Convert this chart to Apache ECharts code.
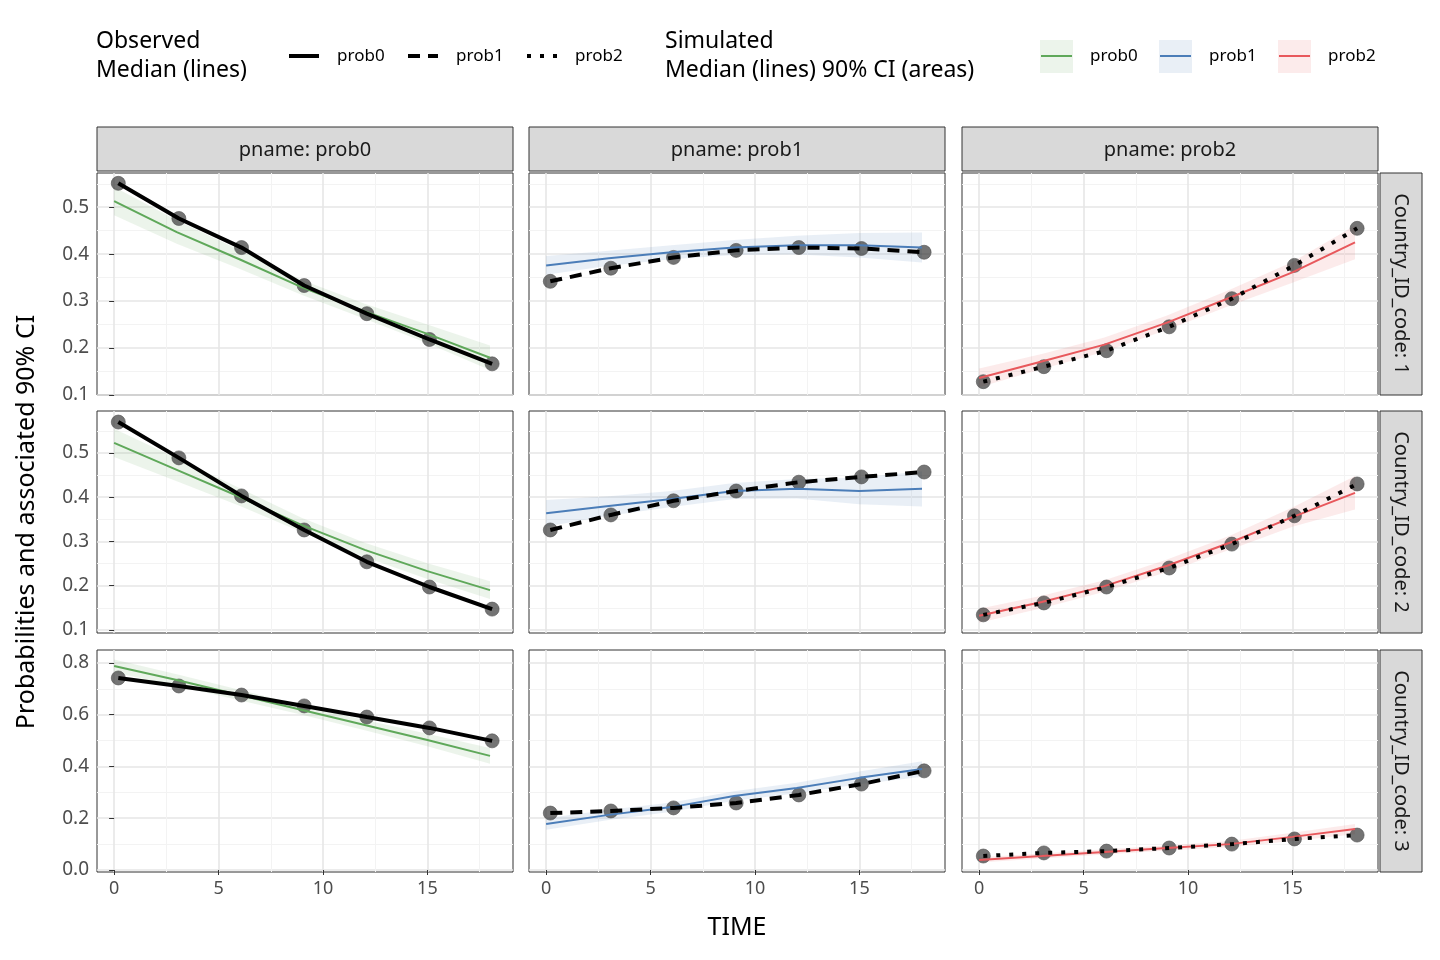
<!DOCTYPE html>
<html><head><meta charset="utf-8">
<script src="https://cdn.jsdelivr.net/npm/echarts@6/dist/echarts.min.js"></script>
<style>html,body{margin:0;background:#fff}#c{width:1440px;height:960px}</style>
</head><body><div id="c"></div>
<script>
// time points
const obsTimes = [0.2, 3.1, 6.1, 9.1, 12.1, 15.1, 18.1];
const simTimes = [0, 3, 6, 9, 12, 15, 18];
const pnames = ["prob0", "prob1", "prob2"];
const countries = ["Country_ID_code: 1", "Country_ID_code: 2", "Country_ID_code: 3"];

// observed medians [row][prob]
const obs1 = [
  [0.551, 0.476, 0.414, 0.333, 0.273, 0.218, 0.166],
  [0.342, 0.370, 0.393, 0.408, 0.414, 0.412, 0.404],
  [0.128, 0.160, 0.194, 0.245, 0.305, 0.376, 0.455]
];
const obs2 = [
  [0.570, 0.489, 0.403, 0.326, 0.254, 0.197, 0.147],
  [0.326, 0.360, 0.392, 0.414, 0.434, 0.446, 0.457],
  [0.134, 0.161, 0.197, 0.240, 0.294, 0.358, 0.430]
];
const obs3 = [
  [0.742, 0.711, 0.676, 0.634, 0.591, 0.549, 0.499],
  [0.220, 0.228, 0.240, 0.259, 0.290, 0.332, 0.383],
  [0.054, 0.066, 0.073, 0.085, 0.100, 0.120, 0.135]
];
// simulated medians
const sim1 = [
  [0.513, 0.447, 0.389, 0.329, 0.278, 0.230, 0.179],
  [0.376, 0.391, 0.404, 0.414, 0.419, 0.419, 0.414],
  [0.136, 0.171, 0.207, 0.254, 0.307, 0.361, 0.425]
];
const sim2 = [
  [0.523, 0.462, 0.401, 0.337, 0.281, 0.233, 0.190],
  [0.364, 0.380, 0.396, 0.414, 0.419, 0.414, 0.419],
  [0.132, 0.163, 0.199, 0.245, 0.297, 0.355, 0.410]
];
const sim3 = [
  [0.788, 0.734, 0.676, 0.618, 0.560, 0.502, 0.441],
  [0.178, 0.213, 0.243, 0.286, 0.317, 0.356, 0.390],
  [0.039, 0.054, 0.070, 0.085, 0.100, 0.128, 0.158]
];
// 90% CI half widths
const ci1 = [
  [0.030, 0.025, 0.020, 0.016, 0.016, 0.020, 0.026],
  [0.020, 0.016, 0.015, 0.016, 0.020, 0.026, 0.032],
  [0.020, 0.016, 0.015, 0.015, 0.017, 0.022, 0.036]
];
const ci2 = [
  [0.032, 0.026, 0.020, 0.016, 0.016, 0.018, 0.020],
  [0.030, 0.022, 0.018, 0.018, 0.022, 0.030, 0.040],
  [0.016, 0.014, 0.013, 0.014, 0.016, 0.022, 0.038]
];
const ci3 = [
  [0.025, 0.022, 0.020, 0.018, 0.020, 0.024, 0.030],
  [0.022, 0.020, 0.018, 0.018, 0.020, 0.025, 0.030],
  [0.010, 0.010, 0.010, 0.010, 0.012, 0.016, 0.020]
];
const obsData = [obs1, obs2, obs3];
const simData = [sim1, sim2, sim3];
const ciData = [ci1, ci2, ci3];

const xTicks = [0, 5, 10, 15];
const xMinor = [2.5, 7.5, 12.5, 17.5];
const yTicks = [[0.1, 0.2, 0.3, 0.4, 0.5], [0.1, 0.2, 0.3, 0.4, 0.5], [0, 0.2, 0.4, 0.6, 0.8]];
const yMinor = [[0.15, 0.25, 0.35, 0.45, 0.55], [0.15, 0.25, 0.35, 0.45, 0.55], [0.1, 0.3, 0.5, 0.7]];
const yRange = [[0.0996, 0.573], [0.093, 0.595], [-0.0077, 0.850]];
const xRange = [-0.82, 19.1];

const simColors = ["#5fa85a", "#4b7db8", "#e8585c"];
const obsDash = ["solid", [12, 8], [4, 9]];
const FONT = "Noto Sans";

const colLeft = [97, 529, 962];
const rowTop = [173, 411, 650];
const PW = 416, PH = 222;

// band polygon between consecutive points, through the axes' scales
function bandRenderer(lo, hi, color) {
  return function (params, api) {
    const i = params.dataIndex;
    if (i >= simTimes.length - 1) return null;
    const pts = [
      api.coord([simTimes[i], lo[i]]), api.coord([simTimes[i + 1], lo[i + 1]]),
      api.coord([simTimes[i + 1], hi[i + 1]]), api.coord([simTimes[i], hi[i]])
    ];
    return { type: "polygon", shape: { points: pts }, style: { fill: color, opacity: 0.12, stroke: null } };
  };
}

const grids = [], xAxes = [], yAxes = [], series = [], graphics = [];
let gi = 0;
for (let r = 0; r < 3; r++) {
  for (let c = 0; c < 3; c++) {
    grids.push({ left: colLeft[c], top: rowTop[r], width: PW, height: PH, show: true,
      borderColor: "#333", borderWidth: 1, backgroundColor: "#fff" });
    const lab = r === 2;
    const ylab = c === 0;
    // minor grid axes first
    xAxes.push({ type: "value", gridIndex: gi, position: "bottom", min: xRange[0], max: xRange[1],
      axisLine: { show: false },
      axisTick: { show: false, customValues: xMinor }, axisLabel: { show: false, customValues: xMinor },
      splitLine: { show: true, lineStyle: { color: "#f3f3f3", width: 1 } } });
    xAxes.push({ type: "value", gridIndex: gi, position: "bottom", min: xRange[0], max: xRange[1],
      axisLine: { show: false },
      axisTick: { show: lab, customValues: xTicks, length: 5, lineStyle: { color: "#333" } },
      axisLabel: { show: lab, customValues: xTicks, color: "#4d4d4d", fontSize: 18, fontFamily: FONT, margin: 8 },
      splitLine: { show: true, lineStyle: { color: "#e6e6e6", width: 1.6 } } });
    yAxes.push({ type: "value", gridIndex: gi, position: "left", min: yRange[r][0], max: yRange[r][1],
      axisLine: { show: false },
      axisTick: { show: false, customValues: yMinor[r] }, axisLabel: { show: false, customValues: yMinor[r] },
      splitLine: { show: true, lineStyle: { color: "#f3f3f3", width: 1 } } });
    yAxes.push({ type: "value", gridIndex: gi, position: "left", min: yRange[r][0], max: yRange[r][1],
      axisLine: { show: false },
      axisTick: { show: ylab, customValues: yTicks[r], length: 5, lineStyle: { color: "#333" } },
      axisLabel: { show: ylab, customValues: yTicks[r], color: "#4d4d4d", fontSize: 19, fontFamily: FONT, margin: 8,
        formatter: v => v.toFixed(1) },
      splitLine: { show: true, lineStyle: { color: "#e6e6e6", width: 1.6 } } });
    const xi = gi * 2 + 1, yi = gi * 2 + 1;
    const sim = simData[r][c], ci = ciData[r][c], obs = obsData[r][c];
    const lo = sim.map((v, i) => v - ci[i]);
    const hi = sim.map((v, i) => v + ci[i]);
    series.push({ type: "custom", xAxisIndex: xi, yAxisIndex: yi, silent: true,
      renderItem: bandRenderer(lo, hi, simColors[c]),
      data: simTimes.map((t, i) => [t, lo[i], hi[i]]), encode: { x: 0, y: [1, 2] } });
    series.push({ type: "line", xAxisIndex: xi, yAxisIndex: yi, symbol: "none",
      lineStyle: { color: simColors[c], width: 2 }, data: simTimes.map((t, i) => [t, sim[i]]) });
    series.push({ type: "line", xAxisIndex: xi, yAxisIndex: yi, symbol: "none",
      lineStyle: { color: "#000", width: 4, type: obsDash[c] }, data: obsTimes.map((t, i) => [t, obs[i]]) });
    series.push({ type: "scatter", xAxisIndex: xi, yAxisIndex: yi, symbolSize: 14,
      itemStyle: { color: "#2a2a2a", opacity: 0.65, borderColor: "#555", borderWidth: 1 },
      data: obsTimes.map((t, i) => [t, obs[i]]) });
    gi++;
  }
}

// strips
for (let c = 0; c < 3; c++) {
  graphics.push({ type: "rect", shape: { x: colLeft[c], y: 127, width: PW, height: 44 },
    style: { fill: "#d9d9d9", stroke: "#333", lineWidth: 1 } });
  graphics.push({ type: "text", x: colLeft[c] + PW / 2, y: 150,
    style: { text: "pname: " + pnames[c], font: "20px '" + FONT + "'", fill: "#1a1a1a", align: "center", verticalAlign: "middle" } });
}
for (let r = 0; r < 3; r++) {
  graphics.push({ type: "rect", shape: { x: 1380, y: rowTop[r], width: 42, height: PH },
    style: { fill: "#d9d9d9", stroke: "#333", lineWidth: 1 } });
  graphics.push({ type: "text", x: 1401, y: rowTop[r] + PH / 2, rotation: -Math.PI / 2,
    style: { text: countries[r], font: "20px '" + FONT + "'", fill: "#1a1a1a", align: "center", verticalAlign: "middle" } });
}
// axis titles
graphics.push({ type: "text", x: 737, y: 928, style: { text: "TIME", font: "25px '" + FONT + "'", fill: "#000", align: "center", verticalAlign: "middle" } });
graphics.push({ type: "text", x: 27, y: 522, rotation: Math.PI / 2,
  style: { text: "Probabilities and associated 90% CI", font: "25px '" + FONT + "'", fill: "#000", align: "center", verticalAlign: "middle" } });
// legend
const lf = "23px '" + FONT + "'", sf = "17px '" + FONT + "'";
graphics.push({ type: "text", x: 96, y: 56, style: { text: "Observed\nMedian (lines)", font: lf, lineHeight: 29, fill: "#000", verticalAlign: "middle" } });
const obsKeyX = [289, 408, 527];
for (let c = 0; c < 3; c++) {
  graphics.push({ type: "line", shape: { x1: obsKeyX[c], y1: 56, x2: obsKeyX[c] + 30, y2: 56 },
    style: { stroke: "#000", lineWidth: 4, lineDash: c === 0 ? null : obsDash[c] } });
  graphics.push({ type: "text", x: obsKeyX[c] + 48, y: 56, style: { text: pnames[c], font: sf, fill: "#000", verticalAlign: "middle" } });
}
graphics.push({ type: "text", x: 665, y: 56, style: { text: "Simulated\nMedian (lines) 90% CI (areas)", font: lf, lineHeight: 29, fill: "#000", verticalAlign: "middle" } });
const simKeyX = [1040, 1159, 1278];
for (let c = 0; c < 3; c++) {
  graphics.push({ type: "rect", shape: { x: simKeyX[c], y: 40, width: 33, height: 33 },
    style: { fill: simColors[c], opacity: 0.12 } });
  graphics.push({ type: "line", shape: { x1: simKeyX[c] + 1, y1: 56, x2: simKeyX[c] + 32, y2: 56 },
    style: { stroke: simColors[c], lineWidth: 2 } });
  graphics.push({ type: "text", x: simKeyX[c] + 50, y: 56, style: { text: pnames[c], font: sf, fill: "#000", verticalAlign: "middle" } });
}

const chart = echarts.init(document.getElementById("c"));
chart.setOption({ animation: false, backgroundColor: "#fff", grid: grids, xAxis: xAxes, yAxis: yAxes, series, graphic: graphics });
</script></body></html>
